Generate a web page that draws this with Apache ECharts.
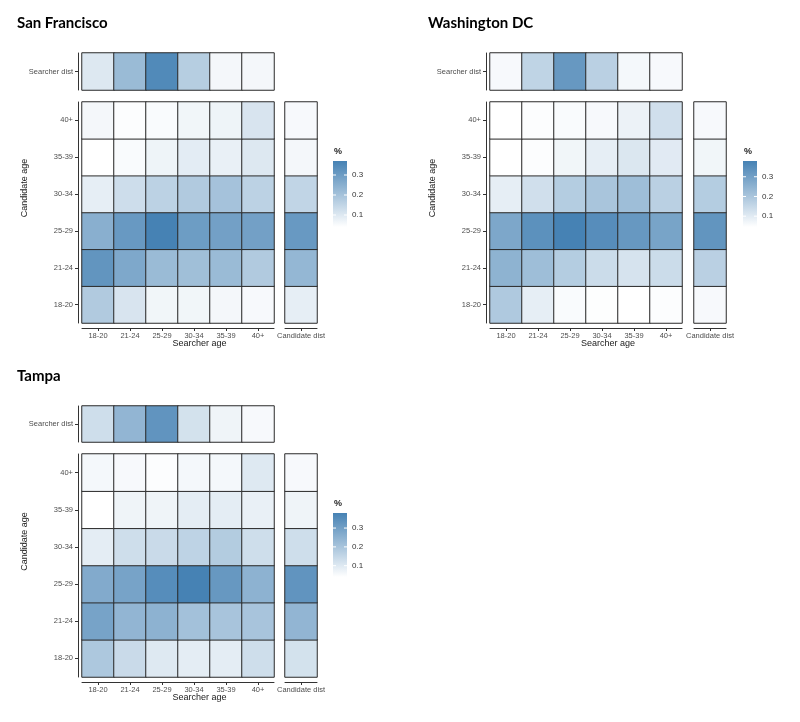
<!DOCTYPE html>
<html>
<head>
<meta charset="utf-8">
<script src="https://cdn.jsdelivr.net/npm/echarts@6/dist/echarts.min.js"></script>
<style>html,body{margin:0;padding:0;background:#fff}#c{width:800px;height:722px}</style>
</head>
<body>
<div id="c"></div>
<script>
// ---------- DATA ----------
const searcherAges = ['18-20', '21-24', '25-29', '30-34', '35-39', '40+'];
const candidateAges = ['18-20', '21-24', '25-29', '30-34', '35-39', '40+']; // bottom -> top
const searcherDistLabel = ['Searcher dist'];
const candidateDistLabel = ['Candidate dist'];
const legendTicks = [0.1, 0.2, 0.3];
const cityNames = ['San Francisco', 'Washington DC', 'Tampa'];

// rows: candidate age (18-20 .. 40+), columns: searcher age (18-20 .. 40+)
const sfMatrix = [
  [0.18, 0.11, 0.065, 0.065, 0.06, 0.055],
  [0.32, 0.27, 0.22, 0.21, 0.22, 0.18],
  [0.25, 0.31, 0.37, 0.30, 0.29, 0.29],
  [0.085, 0.13, 0.16, 0.18, 0.20, 0.16],
  [0.04, 0.05, 0.07, 0.09, 0.08, 0.10],
  [0.06, 0.045, 0.05, 0.065, 0.07, 0.11]
];
const sfCandidateDist = [0.085, 0.23, 0.31, 0.15, 0.06, 0.055];
const sfSearcherDist = [0.10, 0.22, 0.35, 0.17, 0.06, 0.06];

const dcMatrix = [
  [0.19, 0.09, 0.055, 0.048, 0.045, 0.05],
  [0.25, 0.22, 0.18, 0.14, 0.12, 0.14],
  [0.28, 0.34, 0.38, 0.35, 0.32, 0.29],
  [0.09, 0.13, 0.18, 0.20, 0.22, 0.17],
  [0.045, 0.05, 0.07, 0.09, 0.11, 0.10],
  [0.045, 0.05, 0.055, 0.06, 0.08, 0.13]
];
const dcCandidateDist = [0.06, 0.17, 0.33, 0.18, 0.07, 0.06];
const dcSearcherDist = [0.06, 0.16, 0.32, 0.17, 0.065, 0.06];

const tampaMatrix = [
  [0.19, 0.14, 0.10, 0.09, 0.09, 0.13],
  [0.29, 0.24, 0.25, 0.21, 0.20, 0.20],
  [0.27, 0.29, 0.35, 0.38, 0.32, 0.25],
  [0.09, 0.13, 0.14, 0.16, 0.18, 0.13],
  [0.04, 0.07, 0.07, 0.09, 0.09, 0.08],
  [0.06, 0.055, 0.045, 0.06, 0.06, 0.10]
];
const tampaCandidateDist = [0.12, 0.24, 0.33, 0.13, 0.07, 0.055];
const tampaSearcherDist = [0.13, 0.24, 0.33, 0.12, 0.07, 0.055];

// ---------- LAYOUT ----------
const FONT = 'Liberation Sans, Arial, sans-serif';
const LOW = '#ffffff', HIGH = '#4682b4';
const layouts = [
  {x: 82, stripTop: 53, stripH: 37, mainTop: 102, mainH: 221, candX: 285, titleX: 17, titleY: 16,
   legX: 333, legTop: 161, legH: 66, ylabX: 25},
  {x: 490, stripTop: 53, stripH: 37, mainTop: 102, mainH: 221, candX: 694, titleX: 428, titleY: 16,
   legX: 743, legTop: 161, legH: 66, ylabX: 433},
  {x: 82, stripTop: 406, stripH: 36, mainTop: 454, mainH: 223, candX: 285, titleX: 17, titleY: 369,
   legX: 333, legTop: 513, legH: 64, ylabX: 25}
];
const panels = [
  {name: cityNames[0], matrix: sfMatrix, cand: sfCandidateDist, srch: sfSearcherDist},
  {name: cityNames[1], matrix: dcMatrix, cand: dcCandidateDist, srch: dcSearcherDist},
  {name: cityNames[2], matrix: tampaMatrix, cand: tampaCandidateDist, srch: tampaSearcherDist}
];
const MAIN_W = 192, CAND_W = 32;

const grids = [], xAxes = [], yAxes = [], series = [], visualMaps = [], titles = [], graphics = [];
const axisLineStyle = {color: '#333', width: 1};
const labelStyle = {fontSize: 7.5, color: '#4d4d4d', fontFamily: FONT};
const cellStyle = {borderColor: '#2a2a2a', borderWidth: 1};
const tick = {show: true, length: 3, alignWithLabel: true, lineStyle: axisLineStyle};

panels.forEach((p, i) => {
  const L = layouts[i];
  const g0 = grids.length;
  grids.push({left: L.x, top: L.stripTop, width: MAIN_W, height: L.stripH});
  grids.push({left: L.x, top: L.mainTop, width: MAIN_W, height: L.mainH});
  grids.push({left: L.candX, top: L.mainTop, width: CAND_W, height: L.mainH});

  // strip axes
  xAxes.push({type: 'category', gridIndex: g0, data: searcherAges, show: false});
  yAxes.push({type: 'category', gridIndex: g0, data: searcherDistLabel, offset: 4,
    axisLine: {show: true, lineStyle: axisLineStyle}, axisTick: tick,
    axisLabel: Object.assign({margin: 5}, labelStyle), splitLine: {show: false}});
  // main axes
  xAxes.push({type: 'category', gridIndex: g0 + 1, data: searcherAges, position: 'bottom', offset: 5,
    axisLine: {show: true, lineStyle: axisLineStyle}, axisTick: tick,
    axisLabel: Object.assign({margin: 4}, labelStyle), splitLine: {show: false}});
  yAxes.push({type: 'category', gridIndex: g0 + 1, data: candidateAges, offset: 4,
    axisLine: {show: true, lineStyle: axisLineStyle}, axisTick: tick,
    axisLabel: Object.assign({margin: 5}, labelStyle), splitLine: {show: false}});
  // candidate dist axes
  xAxes.push({type: 'category', gridIndex: g0 + 2, data: candidateDistLabel, position: 'bottom', offset: 5,
    axisLine: {show: true, lineStyle: axisLineStyle}, axisTick: tick,
    axisLabel: Object.assign({margin: 4}, labelStyle), splitLine: {show: false}});
  yAxes.push({type: 'category', gridIndex: g0 + 2, data: candidateAges, show: false});

  const stripData = p.srch.map((v, c) => [c, 0, v]);
  const mainData = [];
  p.matrix.forEach((row, r) => row.forEach((v, c) => mainData.push([c, r, v])));
  const candData = p.cand.map((v, r) => [0, r, v]);

  const s0 = series.length;
  [stripData, mainData, candData].forEach((d, k) => {
    series.push({type: 'heatmap', xAxisIndex: g0 + k, yAxisIndex: g0 + k, data: d,
      itemStyle: cellStyle, emphasis: {disabled: true}, progressive: 0});
  });

  const all = [].concat(p.srch, p.cand, ...p.matrix);
  const vmin = Math.min(...all), vmax = Math.max(...all);
  visualMaps.push({type: 'continuous', show: false, min: vmin, max: vmax, dimension: 2,
    seriesIndex: [s0, s0 + 1, s0 + 2], inRange: {color: [LOW, HIGH]}});

  titles.push({text: p.name, left: L.titleX, top: L.titleY, padding: 0,
    textStyle: {fontSize: 15, fontWeight: 'bold', color: '#000', fontFamily: 'Lato, Open Sans, sans-serif'}});

  // axis titles
  const xMid = (L.x + L.candX + CAND_W) / 2;
  const bottomY = L.mainTop + L.mainH;
  graphics.push({type: 'text', x: xMid, y: bottomY + 21,
    style: {text: 'Searcher age', fontSize: 9, fill: '#1a1a1a', fontFamily: FONT, textAlign: 'center', textVerticalAlign: 'middle'}});
  graphics.push({type: 'text', x: L.ylabX, y: (L.stripTop + bottomY) / 2, rotation: Math.PI / 2,
    style: {text: 'Candidate age', fontSize: 9, fill: '#1a1a1a', fontFamily: FONT, textAlign: 'center', textVerticalAlign: 'middle'}});

  // colour bar legend
  graphics.push({type: 'text', x: L.legX + 1, y: L.legTop - 9,
    style: {text: '%', fontSize: 9, fontWeight: 'bold', fill: '#222', fontFamily: FONT, textAlign: 'left', textVerticalAlign: 'middle'}});
  graphics.push({type: 'rect', shape: {x: L.legX, y: L.legTop, width: 14, height: L.legH},
    style: {fill: {type: 'linear', x: 0, y: 0, x2: 0, y2: 1, colorStops: [{offset: 0, color: HIGH}, {offset: 1, color: LOW}]}}});
  legendTicks.forEach(t => {
    const ty = L.legTop + (vmax - t) / (vmax - vmin) * L.legH;
    graphics.push({type: 'line', shape: {x1: L.legX, y1: ty, x2: L.legX + 3, y2: ty}, style: {stroke: '#fff', lineWidth: 1}});
    graphics.push({type: 'line', shape: {x1: L.legX + 11, y1: ty, x2: L.legX + 14, y2: ty}, style: {stroke: '#fff', lineWidth: 1}});
    graphics.push({type: 'text', x: L.legX + 19, y: ty,
      style: {text: String(t), fontSize: 8, fill: '#333', fontFamily: FONT, textAlign: 'left', textVerticalAlign: 'middle'}});
  });
});

const chart = echarts.init(document.getElementById('c'), null, {renderer: 'canvas'});
chart.setOption({
  animation: false,
  backgroundColor: '#fff',
  title: titles,
  grid: grids,
  xAxis: xAxes,
  yAxis: yAxes,
  visualMap: visualMaps,
  series: series,
  graphic: graphics
});
</script>
</body>
</html>
